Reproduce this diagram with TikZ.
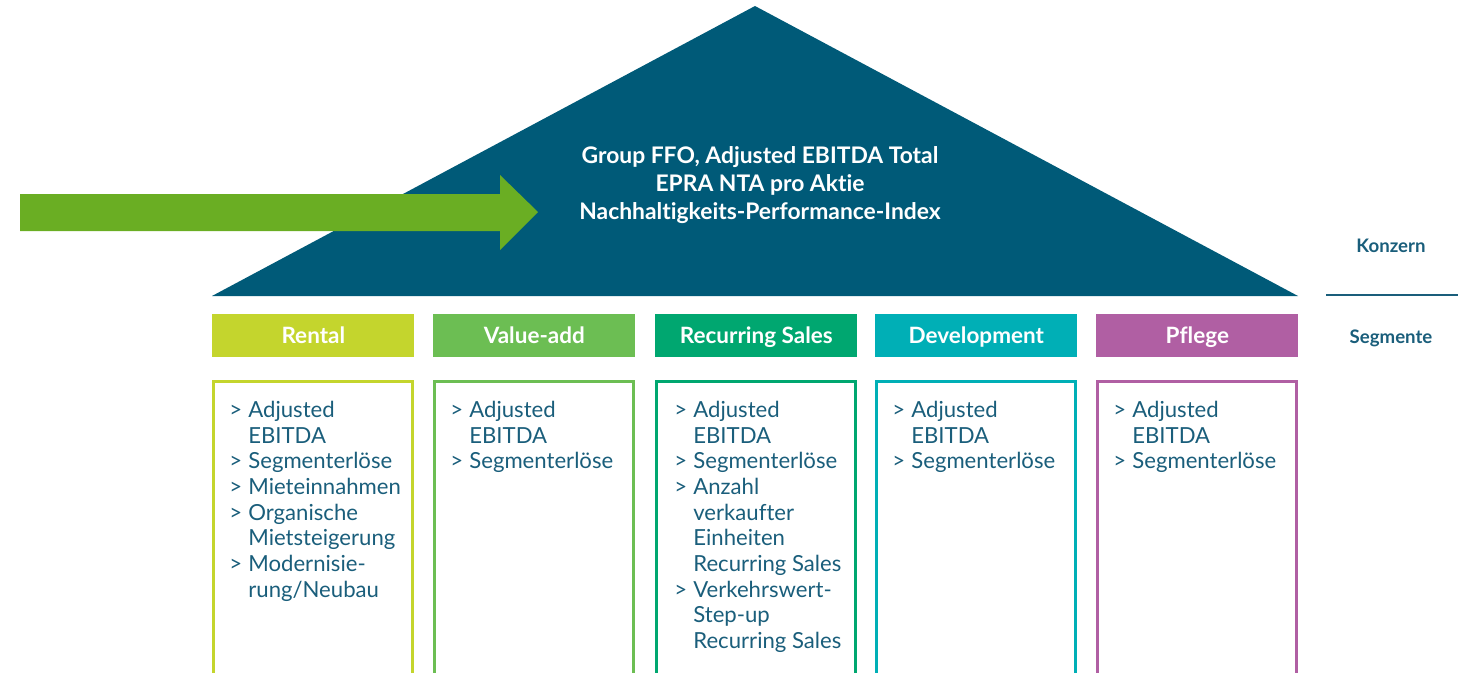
\documentclass[tikz,border=0pt]{standalone}
\usepackage{fontspec}
\setmainfont{Lato}[Ligatures=NoCommon]
\usetikzlibrary{positioning}
\definecolor{roofblue}{HTML}{005A78}
\definecolor{inkblue}{HTML}{1A5E7B}
\definecolor{arrowgreen}{HTML}{6AAE23}
\definecolor{rentalc}{HTML}{C4D52D}
\definecolor{valuec}{HTML}{6CBE53}
\definecolor{recurc}{HTML}{00A770}
\definecolor{devc}{HTML}{00AFB6}
\definecolor{pflegec}{HTML}{B05FA3}
\newcommand{\gt}{\makebox[0.38cm][l]{>}}
\newcommand{\gi}{\hspace*{0.38cm}}

\begin{document}
\begin{tikzpicture}[x=0.02cm,y=-0.02cm,
  segbox/.style={fill=#1, text=white, font=\fontsize{12.8}{15}\selectfont\bfseries,
    minimum width=4.04cm, minimum height=0.86cm, inner sep=0, anchor=north west,
    text height=1.75ex, text depth=0pt},
  listframe/.style={draw=#1, line width=1.4pt},
  listtext/.style={text=inkblue, font=\fontsize{12.6}{14.6}\selectfont,
    align=left, inner sep=0, anchor=north west},
  sidelabel/.style={text=inkblue, font=\fontsize{10.6}{13}\selectfont\bfseries}]
\useasboundingbox (0,0) rectangle (1468,673);
\clip (0,0) rectangle (1468,673);

% roof
\fill[roofblue] (212,296) -- (755,6) -- (1298,296) -- cycle;
\node[text=white, font=\fontsize{13}{15.9}\selectfont\bfseries, align=center]
  (roof) at (760,185)
  {Group FFO, Adjusted EBITDA Total\\EPRA NTA pro Aktie\\Nachhaltigkeits-Performance-Index};

% arrow into the roof
\fill[arrowgreen] (20,194) -- (500,194) -- (500,175) -- (538,212)
  -- (500,250) -- (500,231) -- (20,231) -- cycle;

% side labels
\node[sidelabel] (konzern) at (1391,246) {Konzern};
\draw[inkblue, line width=1.7pt] (1326,295) -- (1458,295);
\node[sidelabel] (segmente) at (1391,338) {Segmente};

% segment headers and frames
\foreach \x/\col/\nm/\lab in {
  212/rentalc/rental/Rental,
  433/valuec/value/Value-add,
  655/recurc/recur/Recurring Sales,
  875/devc/dev/Development,
  1096/pflegec/pflege/Pflege
}{
  \node[segbox=\col] (h-\nm) at (\x,314) {\lab};
  \draw[listframe=\col] (\x+1.5,381.5) rectangle (\x+200.5,720);
}

% KPIs per segment
\node[listtext] (l-rental) at (229,401)
  {\gt Adjusted\\\gi EBITDA\\\gt Segmenterlöse\\\gt Mieteinnahmen\\\gt Organische\\\gi Mietsteigerung\\\gt Modernisie-\\\gi rung/Neubau};
\node[listtext] (l-value) at (450,401)
  {\gt Adjusted\\\gi EBITDA\\\gt Segmenterlöse};
\node[listtext] (l-recur) at (674,401)
  {\gt Adjusted\\\gi EBITDA\\\gt Segmenterlöse\\\gt Anzahl\\\gi verkaufter\\\gi Einheiten\\\gi Recurring Sales\\\gt Verkehrswert-\\\gi Step-up\\\gi Recurring Sales};
\node[listtext] (l-dev) at (892,401)
  {\gt Adjusted\\\gi EBITDA\\\gt Segmenterlöse};
\node[listtext] (l-pflege) at (1113,401)
  {\gt Adjusted\\\gi EBITDA\\\gt Segmenterlöse};
\end{tikzpicture}
\end{document}
